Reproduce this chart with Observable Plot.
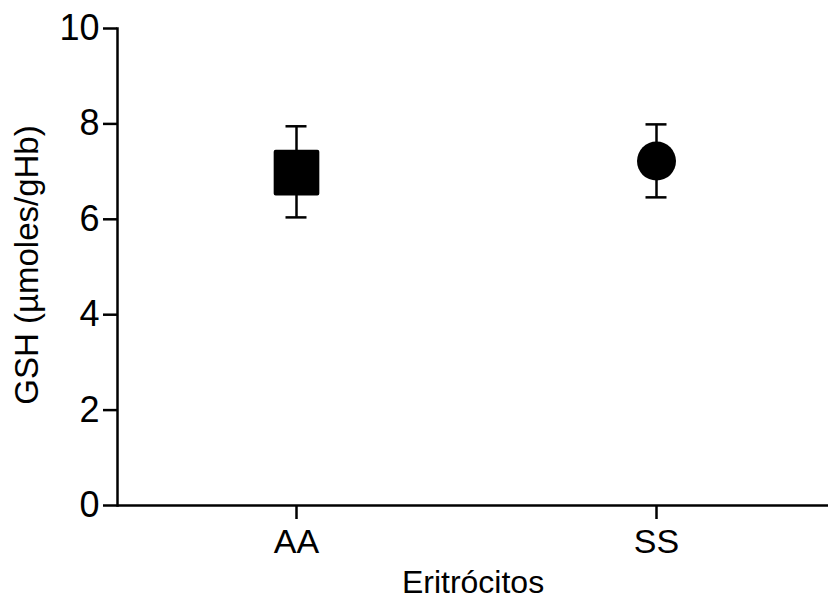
<!DOCTYPE html>
<html>
<head>
<meta charset="utf-8">
<script src="https://cdn.jsdelivr.net/npm/d3@7"></script>
<script src="https://cdn.jsdelivr.net/npm/@observablehq/plot@0.6"></script>
<style>
  body { margin: 0; background: #fff; }
  svg { font-family: "Liberation Sans", Arial, sans-serif; }
</style>
</head>
<body>
<div id="chart"></div>
<script>
const categories = ["AA", "SS"];
const means = [6.98, 7.22];
const upper = [7.95, 7.99];
const lower = [6.04, 6.46];
const symbols = ["square", "circle"];
const yTicks = [0, 2, 4, 6, 8, 10];
const yLabel = "GSH (µmoles/gHb)";
const xLabel = "Eritrócitos";

const data = categories.map((c, i) => ({cat: c, mean: means[i], hi: upper[i], lo: lower[i], sym: symbols[i]}));

const chart = Plot.plot({
  width: 830,
  height: 602,
  marginLeft: 117,
  marginRight: 2,
  marginTop: 28,
  marginBottom: 97,
  style: {fontSize: "34px", fontFamily: "Liberation Sans, Arial, sans-serif", background: "#fff", color: "#000"},
  x: {type: "point", domain: categories, range: [296, 656], padding: 0},
  y: {domain: [0, 10]},
  marks: [
    Plot.axisY({ticks: yTicks, tickSize: 14, tickPadding: 4, strokeWidth: 2.5, fontSize: 36, label: null}),
    Plot.axisX({tickSize: 14, tickPadding: 9, strokeWidth: 2.5, fontSize: 34, label: null}),
    Plot.text([yLabel], {frameAnchor: "left", rotate: -90, dx: -90, dy: -2, fontSize: 33, textAnchor: "middle", lineAnchor: "middle"}),
    Plot.text([xLabel], {frameAnchor: "bottom", dy: 77, fontSize: 32, textAnchor: "middle", lineAnchor: "middle"}),
    Plot.ruleY([0], {strokeWidth: 2.5}),
    Plot.frame({anchor: "left", strokeWidth: 2.5}),
    Plot.ruleX(data, {x: "cat", y1: "lo", y2: "hi", strokeWidth: 2.5}),
    Plot.ruleY(data, {x1: "cat", x2: "cat", y: "hi", strokeWidth: 2.5, insetLeft: -10.5, insetRight: -10.5}),
    Plot.ruleY(data, {x1: "cat", x2: "cat", y: "lo", strokeWidth: 2.5, insetLeft: -10.5, insetRight: -10.5}),
    Plot.dot(data.filter(d => d.sym === "square"), {x: "cat", y: "mean", symbol: "square", r: 23.5, fill: "#000", stroke: "#000", strokeWidth: 4, strokeLinejoin: "round"}),
    Plot.dot(data.filter(d => d.sym === "circle"), {x: "cat", y: "mean", symbol: "circle", r: 19.5, fill: "#000"})
  ]
});
document.getElementById("chart").appendChild(chart);
</script>
</body>
</html>
